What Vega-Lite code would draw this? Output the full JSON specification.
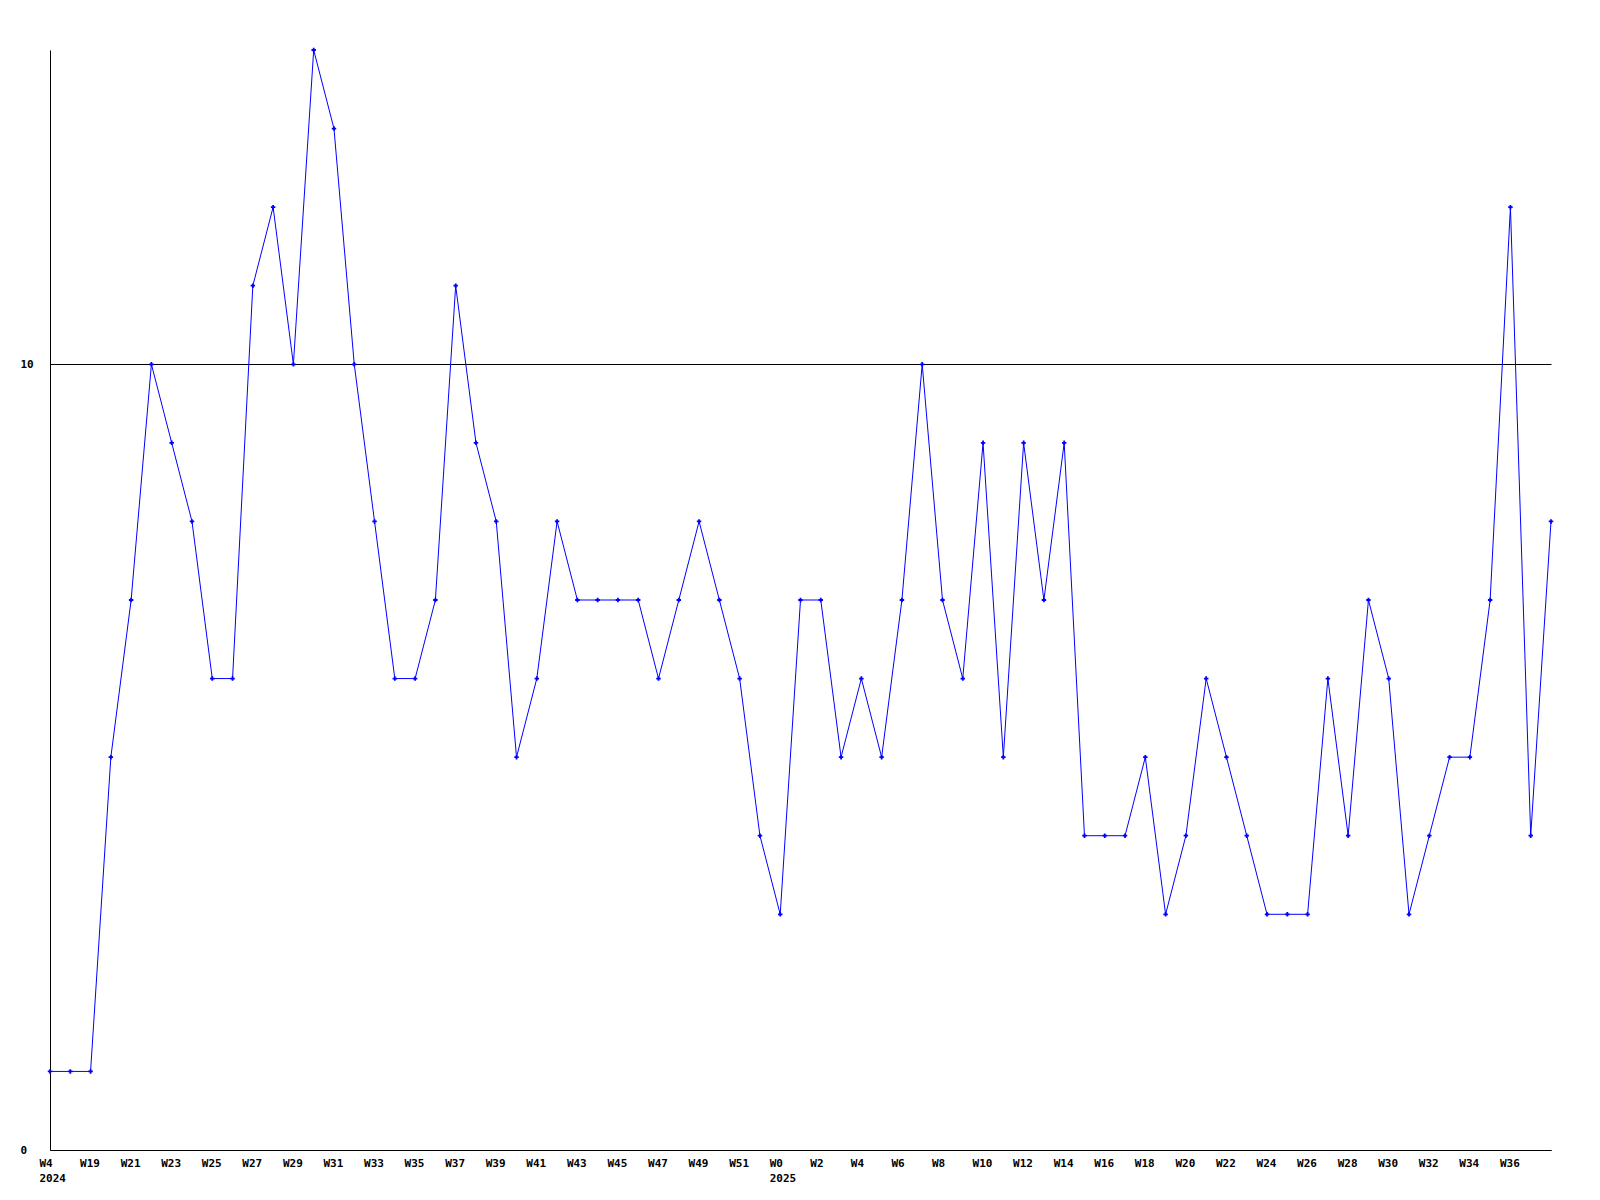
{
  "$schema": "https://vega.github.io/schema/vega-lite/v6.json",
  "width": 1501,
  "height": 1100,
  "autosize": {"type": "none"},
  "padding": {"left": 50, "top": 50, "right": 49, "bottom": 50},
  "background": "white",
  "config": {"view": {"stroke": null}},
  "data": {"values": [
    {"week": "2024-W4", "n": 1},
    {"week": "2024-W18", "n": 1},
    {"week": "2024-W19", "n": 1},
    {"week": "2024-W20", "n": 5},
    {"week": "2024-W21", "n": 7},
    {"week": "2024-W22", "n": 10},
    {"week": "2024-W23", "n": 9},
    {"week": "2024-W24", "n": 8},
    {"week": "2024-W25", "n": 6},
    {"week": "2024-W26", "n": 6},
    {"week": "2024-W27", "n": 11},
    {"week": "2024-W28", "n": 12},
    {"week": "2024-W29", "n": 10},
    {"week": "2024-W30", "n": 14},
    {"week": "2024-W31", "n": 13},
    {"week": "2024-W32", "n": 10},
    {"week": "2024-W33", "n": 8},
    {"week": "2024-W34", "n": 6},
    {"week": "2024-W35", "n": 6},
    {"week": "2024-W36", "n": 7},
    {"week": "2024-W37", "n": 11},
    {"week": "2024-W38", "n": 9},
    {"week": "2024-W39", "n": 8},
    {"week": "2024-W40", "n": 5},
    {"week": "2024-W41", "n": 6},
    {"week": "2024-W42", "n": 8},
    {"week": "2024-W43", "n": 7},
    {"week": "2024-W44", "n": 7},
    {"week": "2024-W45", "n": 7},
    {"week": "2024-W46", "n": 7},
    {"week": "2024-W47", "n": 6},
    {"week": "2024-W48", "n": 7},
    {"week": "2024-W49", "n": 8},
    {"week": "2024-W50", "n": 7},
    {"week": "2024-W51", "n": 6},
    {"week": "2024-W52", "n": 4},
    {"week": "2025-W0", "n": 3},
    {"week": "2025-W1", "n": 7},
    {"week": "2025-W2", "n": 7},
    {"week": "2025-W3", "n": 5},
    {"week": "2025-W4", "n": 6},
    {"week": "2025-W5", "n": 5},
    {"week": "2025-W6", "n": 7},
    {"week": "2025-W7", "n": 10},
    {"week": "2025-W8", "n": 7},
    {"week": "2025-W9", "n": 6},
    {"week": "2025-W10", "n": 9},
    {"week": "2025-W11", "n": 5},
    {"week": "2025-W12", "n": 9},
    {"week": "2025-W13", "n": 7},
    {"week": "2025-W14", "n": 9},
    {"week": "2025-W15", "n": 4},
    {"week": "2025-W16", "n": 4},
    {"week": "2025-W17", "n": 4},
    {"week": "2025-W18", "n": 5},
    {"week": "2025-W19", "n": 3},
    {"week": "2025-W20", "n": 4},
    {"week": "2025-W21", "n": 6},
    {"week": "2025-W22", "n": 5},
    {"week": "2025-W23", "n": 4},
    {"week": "2025-W24", "n": 3},
    {"week": "2025-W25", "n": 3},
    {"week": "2025-W26", "n": 3},
    {"week": "2025-W27", "n": 6},
    {"week": "2025-W28", "n": 4},
    {"week": "2025-W29", "n": 7},
    {"week": "2025-W30", "n": 6},
    {"week": "2025-W31", "n": 3},
    {"week": "2025-W32", "n": 4},
    {"week": "2025-W33", "n": 5},
    {"week": "2025-W34", "n": 5},
    {"week": "2025-W35", "n": 7},
    {"week": "2025-W36", "n": 12},
    {"week": "2025-W37", "n": 4},
    {"week": "2025-W38", "n": 8}
  ]},
  "encoding": {
    "x": {
      "field": "week",
      "type": "ordinal",
      "sort": null,
      "scale": {"type": "point", "padding": 0},
      "axis": {
        "title": null,
        "values": ["2024-W4","2024-W19","2024-W21","2024-W23","2024-W25","2024-W27","2024-W29","2024-W31","2024-W33","2024-W35","2024-W37","2024-W39","2024-W41","2024-W43","2024-W45","2024-W47","2024-W49","2024-W51","2025-W0","2025-W2","2025-W4","2025-W6","2025-W8","2025-W10","2025-W12","2025-W14","2025-W16","2025-W18","2025-W20","2025-W22","2025-W24","2025-W26","2025-W28","2025-W30","2025-W32","2025-W34","2025-W36"],
        "labelExpr": "indexof(['2024-W4','2025-W0'], datum.value) >= 0 ? [split(datum.value,'-')[1], split(datum.value,'-')[0]] : split(datum.value,'-')[1]",
        "ticks": false,
        "grid": false,
        "domainColor": "black",
        "domainWidth": 1,
        "labelAlign": "left",
        "labelOffset": -11,
        "labelBaseline": "top",
        "labelPadding": 7,
        "labelLineHeight": 15,
        "labelFont": "DejaVu Sans Mono",
        "labelFontWeight": "bold",
        "labelFontSize": 11,
        "labelColor": "black",
        "labelAngle": 0,
        "labelOverlap": false
      }
    },
    "y": {
      "field": "n",
      "type": "quantitative",
      "scale": {"domain": [0, 14], "nice": false, "zero": true},
      "axis": {
        "title": null,
        "values": [0, 10],
        "grid": true,
        "gridColor": "black",
        "gridOpacity": 1,
        "gridWidth": 1,
        "ticks": false,
        "domainColor": "black",
        "domainWidth": 1,
        "labelAlign": "left",
        "labelPadding": 30,
        "labelBaseline": "middle",
        "labelFont": "DejaVu Sans Mono",
        "labelFontWeight": "bold",
        "labelFontSize": 11,
        "labelColor": "black"
      }
    }
  },
  "layer": [
    {"mark": {"type": "line", "color": "#0000ff", "strokeWidth": 1}},
    {"mark": {"type": "point", "shape": "cross", "filled": true, "color": "#0000ff", "size": 20, "opacity": 1}}
  ]
}
